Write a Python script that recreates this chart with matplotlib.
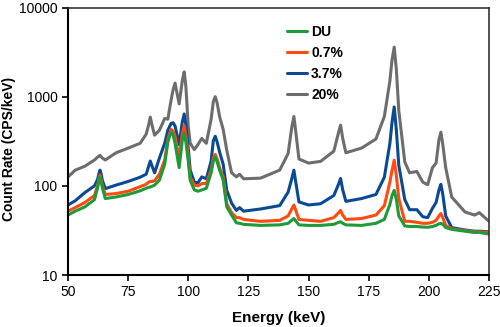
import matplotlib
matplotlib.use("Agg")
import matplotlib.pyplot as plt
from matplotlib.ticker import FixedLocator, NullLocator, FixedFormatter

plt.rcParams['font.family'] = ['Liberation Sans', 'DejaVu Sans']

# Gamma-ray spectra of uranium samples at several enrichments
energy_kev = [50, 53, 57, 61, 62.3, 62.8, 63.3, 63.8, 64.3, 65.5, 70, 75, 80, 82.5,
              83.5, 84.2, 85, 86, 88, 90.2, 91.5, 92.8, 93.7, 94.5, 96.2, 97.5, 98.3,
              99, 100, 100.8, 102.5, 104, 105.6, 107.5, 109.5, 110.4, 111.2, 112, 113,
              114.5, 116, 118, 120, 121.3, 123, 130, 138, 141.5, 143, 143.9, 144.8,
              146, 150, 155, 160.5, 162.5, 163.3, 164.2, 165.5, 172, 178, 181.5, 183.8,
              184.7, 185.6, 186.5, 187.5, 190, 192, 195, 197.5, 199.5, 201.5, 203,
              204.2, 205, 205.8, 207, 209.5, 215, 219, 221, 225]

rate_20 = [126, 150, 166, 195, 210, 215, 220, 212, 205, 195, 235, 265, 300, 380,
           480, 590, 470, 370, 420, 570, 560, 900, 1200, 1420, 830, 1500, 1900,
           1300, 460, 300, 255, 290, 340, 300, 560, 880, 1000, 850, 600,
           430, 250, 140, 126, 135, 120, 122, 150, 230, 450, 600, 380,
           200, 180, 188, 245, 400, 480, 340, 235, 265, 335, 600, 1500,
           2600, 3600, 2000, 700, 185, 140, 145, 110, 103, 160, 180,
           330, 400, 290, 160, 75, 51, 47, 50, 40]

rate_37 = [61, 68, 84, 100, 118, 135, 150, 135, 115, 93, 102, 112, 125, 135,
           165, 190, 165, 140, 205, 300, 420, 500, 510, 470, 290, 520, 640,
           480, 260, 150, 110, 108, 126, 120, 190, 320, 360, 310, 240,
           175, 89, 64, 53, 57, 52, 55, 60, 85, 120, 150, 105,
           66, 61, 63, 78, 105, 121, 90, 67, 72, 80, 125, 300,
           520, 767, 420, 170, 70, 54, 54, 45, 44, 56, 65,
           90, 104, 80, 46, 34, 32, 31, 31, 30.5]

rate_07 = [52, 57, 65, 78, 100, 118, 132, 118, 100, 80, 82, 87, 98, 104,
           110, 112, 112, 114, 135, 195, 330, 430, 410, 360, 200, 380, 470,
           360, 210, 125, 102, 100, 106, 106, 150, 205, 225, 200, 160,
           125, 63, 50, 44, 44, 42, 40, 41, 46, 55, 61, 52,
           42, 41, 40, 44, 50, 53, 47, 42, 43, 47, 60, 110,
           150, 194, 130, 72, 40, 40, 39, 38, 38, 39, 41,
           46, 49, 44, 36, 33, 31.5, 30.5, 30.5, 29.8]

rate_du = [47, 52, 58, 70, 95, 112, 126, 110, 95, 72, 75, 80, 88, 94,
           96, 97, 99, 102, 116, 175, 310, 403, 370, 300, 160, 320, 390,
           310, 190, 115, 90, 87, 90, 94, 140, 190, 211, 185, 150,
           116, 58, 47, 38.5, 38, 37, 36, 36.5, 38, 41, 43, 40,
           36.5, 36, 36, 37, 39, 39.5, 38, 36.5, 36, 38, 42, 62,
           78, 89, 70, 46, 35.5, 35, 35, 34.5, 34.3, 35, 36,
           37.5, 38, 37, 34, 32.5, 31, 30, 30, 28.8]

series_labels = ["DU", "0.7%", "3.7%", "20%"]
series_rates = [rate_du, rate_07, rate_37, rate_20]
series_colors = ["#1f9a38", "#ff4a10", "#0a4a94", "#6d6d6d"]

x_ticks = [50, 75, 100, 125, 150, 175, 200, 225]
y_ticks = [10, 100, 1000, 10000]

fig = plt.figure(figsize=(5.0, 3.27), dpi=100)
ax = fig.add_axes([0.136, 0.159, 0.842, 0.818])

handles = {}
# draw the highest enrichment first so the lower curves sit on top
for label, rates, color in reversed(list(zip(series_labels, series_rates, series_colors))):
    line, = ax.plot(energy_kev, rates, color=color, lw=2.2,
                    solid_joinstyle='round', solid_capstyle='round')
    handles[label] = line

ax.set_yscale('log')
ax.set_xlim(50, 225)
ax.set_ylim(10, 10000)
ax.xaxis.set_major_locator(FixedLocator(x_ticks))
ax.yaxis.set_major_locator(FixedLocator(y_ticks))
ax.yaxis.set_major_formatter(FixedFormatter([str(v) for v in y_ticks]))
ax.yaxis.set_minor_locator(NullLocator())
ax.tick_params(axis='both', labelsize=10, direction='out', length=4, width=1.2)

for side in ['left', 'bottom']:
    ax.spines[side].set_linewidth(1.5)
    ax.spines[side].set_color('black')
for side in ['top', 'right']:
    ax.spines[side].set_linewidth(1.2)
    ax.spines[side].set_color('#333333')

ax.set_xlabel("Energy (keV)", fontsize=11, fontweight='bold', labelpad=8)
ax.set_ylabel("Count Rate (CPS/keV)", fontsize=10, fontweight='bold')
ax.yaxis.set_label_coords(-0.124, 0.47)

leg = ax.legend([handles[l] for l in series_labels], series_labels,
                loc='upper left', bbox_to_anchor=(0.5, 0.965), frameon=False,
                prop={'weight': 'bold', 'size': 10}, handlelength=1.45,
                handletextpad=0.3, labelspacing=0.5, borderaxespad=0.2)

fig.savefig("out.png", dpi=100)
